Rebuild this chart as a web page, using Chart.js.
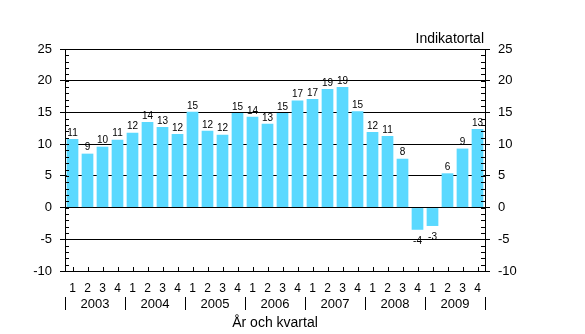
<!DOCTYPE html>
<html>
<head>
<meta charset="utf-8">
<script src="https://cdn.jsdelivr.net/npm/chart.js@4.4.0/dist/chart.umd.min.js"></script>
<style>
  body { margin: 0; background: #ffffff; }
  canvas { display: block; }
</style>
</head>
<body>
<canvas id="grafik" width="585" height="334"></canvas>
<script>
// Kvartal och år
const kvartal = ['1','2','3','4','1','2','3','4','1','2','3','4','1','2','3','4','1','2','3','4','1','2','3','4','1','2','3','4'];
const ar = ['2003', '2004', '2005', '2006', '2007', '2008', '2009'];

// Indikatortal (avlästa stapelhöjder)
const varden = [10.8, 8.5, 9.6, 10.7, 11.8, 13.5, 12.7, 11.6, 15.1, 12.1, 11.5, 14.9, 14.3, 13.2, 14.9, 16.9,
  17.1, 18.7, 19.0, 15.2, 11.9, 11.3, 7.7, -3.5, -2.9, 5.4, 9.3, 12.4];
// Etiketter ovanför staplarna
const etiketter = ['11','9','10','11','12','14','13','12','15','12','12','15','14','13','15','17',
  '17','19','19','15','12','11','8','-4','-3','6','9','13'];

const yTicks = { min: -10, max: 25, steg: 5 };

// Små skalstreck och värdeetiketter
const extra = {
  id: 'extra',
  afterDatasetsDraw(chart) {
    const c = chart.ctx;
    const ca = chart.chartArea;
    const y = chart.scales.y;
    const x = chart.scales.x;
    const x2 = chart.scales.x2;
    c.save();
    c.strokeStyle = '#000';
    c.lineWidth = 1;
    c.beginPath();
    for (let v = yTicks.min; v <= yTicks.max; v++) {
      const py = Math.round(y.getPixelForValue(v)) + 0.5;
      c.moveTo(ca.left, py); c.lineTo(ca.left + 4, py);
      c.moveTo(ca.right - 4, py); c.lineTo(ca.right, py);
    }
    for (let i = 0; i < kvartal.length; i++) {
      const px = Math.round(x.getPixelForValue(i)) + 0.5;
      c.moveTo(px, ca.bottom); c.lineTo(px, ca.bottom - 4);
    }
    // avgränsare mellan åren
    const bredd = (ca.right - ca.left) / ar.length;
    for (let i = 0; i <= ar.length; i++) {
      const px = Math.round(ca.left + i * bredd) + 0.5;
      c.moveTo(px, x2.top + 2); c.lineTo(px, x2.top + 15);
    }
    c.stroke();

    // värdeetiketter
    c.fillStyle = '#000';
    c.font = '10px "Liberation Sans", Arial, sans-serif';
    c.textAlign = 'center';
    const meta = chart.getDatasetMeta(0);
    meta.data.forEach((bar, i) => {
      if (varden[i] >= 0) {
        c.textBaseline = 'bottom';
        c.fillText(etiketter[i], bar.x, bar.y - 1);
      } else {
        c.textBaseline = 'top';
        c.fillText(etiketter[i], bar.x, bar.y + 6);
      }
    });

    // enhet
    c.font = '14px "Liberation Sans", Arial, sans-serif';
    c.textAlign = 'right';
    c.textBaseline = 'alphabetic';
    c.fillText('Indikatortal', ca.right - 1, ca.top - 6);
    c.restore();
  }
};

const ctx = document.getElementById('grafik').getContext('2d');
Chart.defaults.font.family = '"Liberation Sans", Arial, sans-serif';
Chart.defaults.color = '#000';

const grafik = new Chart(ctx, {
  type: 'bar',
  data: {
    labels: kvartal,
    datasets: [{
      data: varden,
      backgroundColor: '#5ad9ff',
      borderWidth: 0,
      barPercentage: 0.78,
      categoryPercentage: 1.0,
    }],
  },
  options: {
    responsive: false,
    animation: false,
    layout: { padding: { top: 49, left: 0, right: 0, bottom: 0 } },
    plugins: { legend: { display: false }, tooltip: { enabled: false } },
    scales: {
      x: {
        position: 'bottom',
        grid: { display: false, drawTicks: false },
        border: { display: false },
        ticks: { font: { size: 12 }, padding: 10, maxRotation: 0, autoSkip: false },
        afterFit: s => { s.height = 24; },
      },
      x2: {
        type: 'category',
        labels: ar,
        position: 'bottom',
        offset: true,
        grid: { display: false, drawTicks: false },
        border: { display: false },
        ticks: { font: { size: 13 }, padding: 2, maxRotation: 0 },
        title: { display: true, text: 'År och kvartal', font: { size: 14 }, padding: { top: 2, bottom: 2 } },
        afterFit: s => { s.height = 39; },
      },
      y: {
        min: yTicks.min,
        max: yTicks.max,
        ticks: { stepSize: yTicks.steg, font: { size: 13 }, padding: 8 },
        grid: { color: '#000', tickLength: 5 },
        border: { color: '#000' },
        afterFit: s => { s.width = 65; },
      },
      y2: {
        position: 'right',
        min: yTicks.min,
        max: yTicks.max,
        ticks: { stepSize: yTicks.steg, font: { size: 13 }, padding: 8 },
        grid: { drawOnChartArea: false, color: '#000', tickLength: 5 },
        border: { color: '#000' },
        afterFit: s => { s.width = 100; },
      },
    },
  },
  plugins: [extra],
});
</script>
</body>
</html>
